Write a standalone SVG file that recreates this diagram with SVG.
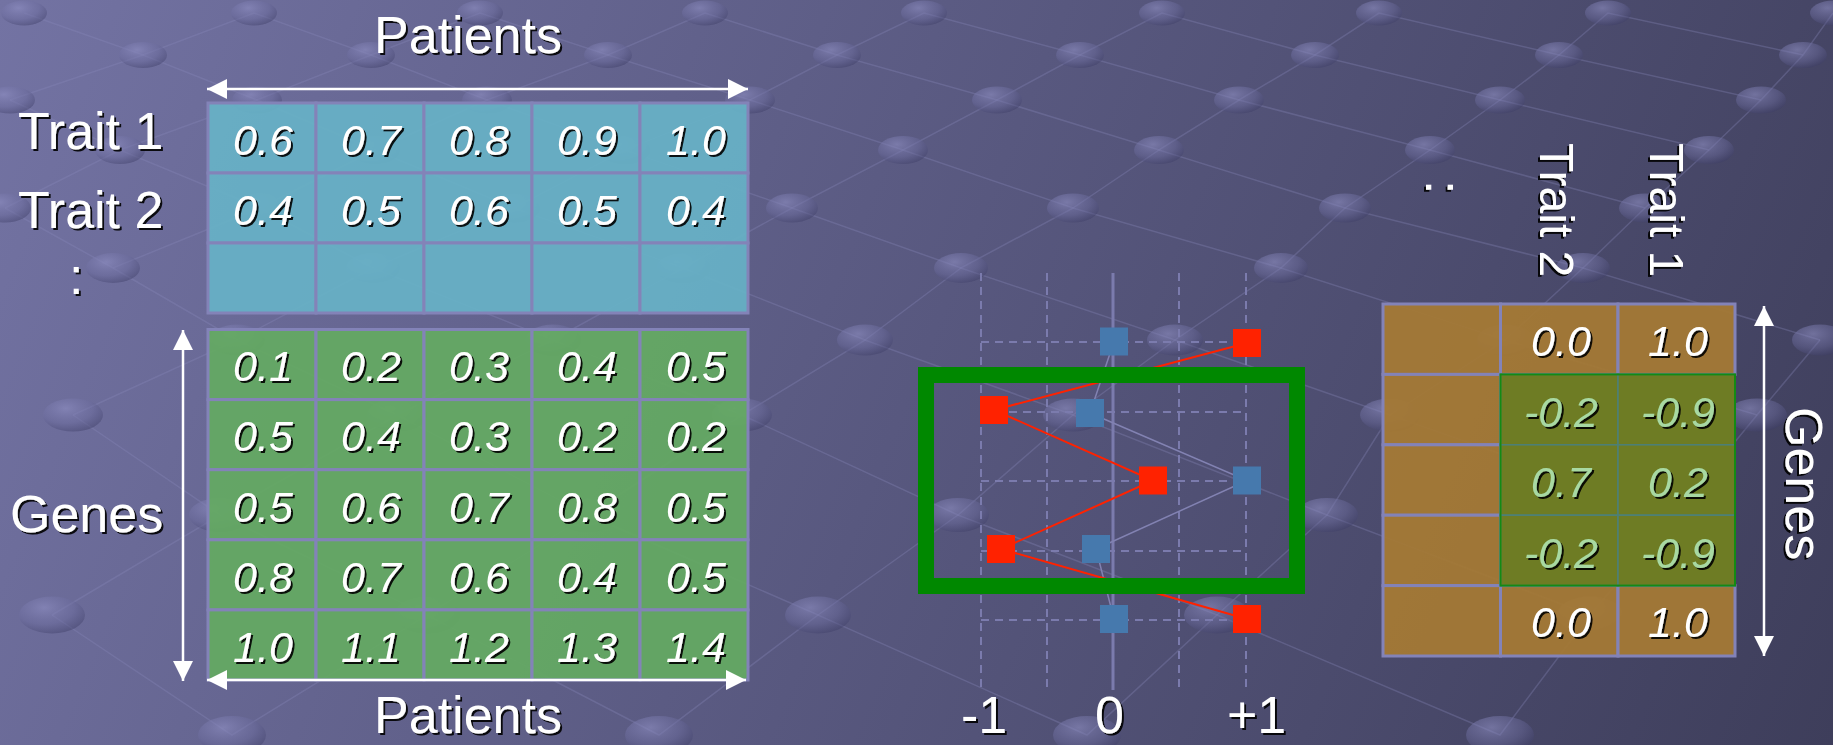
<svg xmlns="http://www.w3.org/2000/svg" width="1833" height="745" viewBox="0 0 1833 745">
<defs>
<linearGradient id="bg" gradientUnits="userSpaceOnUse" x1="0" y1="0" x2="1833" y2="745">
<stop offset="0" stop-color="#7373a3"/><stop offset="0.5" stop-color="#58587f"/><stop offset="1" stop-color="#3e3e5b"/>
</linearGradient>
<radialGradient id="ballg" cx="0.38" cy="0.3" r="0.75">
<stop offset="0" stop-color="#9090c4" stop-opacity="0.6"/><stop offset="0.6" stop-color="#6c6c9e" stop-opacity="0.45"/><stop offset="1" stop-color="#3a3a62" stop-opacity="0.45"/>
</radialGradient>
<filter id="sh" x="-10%" y="-10%" width="130%" height="140%">
<feDropShadow dx="2" dy="2" stdDeviation="0.4" flood-color="#000" flood-opacity="0.9"/>
</filter>
<marker id="ah" markerUnits="userSpaceOnUse" markerWidth="21" markerHeight="21" refX="20" refY="10" orient="auto-start-reverse">
<path d="M0,0 L20,10 L0,20 Z" fill="#fff"/>
</marker>
<style>
.lat{fill:none;stroke:#8a8abc;stroke-opacity:0.32;stroke-width:1.5}
.ball{fill:url(#ballg)}
.lbl{font-family:"Liberation Sans",Arial,sans-serif;font-size:52px;fill:#fff;filter:url(#sh)}
.num{font-family:"Liberation Sans",Arial,sans-serif;font-style:italic;font-size:43px;fill:#fff;text-anchor:middle;filter:url(#sh)}
.ng{fill:#a8d9a2}
.cb{fill:#67b2c6;fill-opacity:0.93;stroke:#8383b8;stroke-width:3}
.cg{fill:#64aa62;fill-opacity:0.93;stroke:#8383b8;stroke-width:3}
.cr{fill:#a47935;fill-opacity:0.95;stroke:#8383b8;stroke-width:3}
.co{fill:#6e7c24;stroke:#4d8078;stroke-width:1.5}
.arr{stroke:#fff;stroke-width:2.5;fill:none;marker-start:url(#ah);marker-end:url(#ah)}
.dash{stroke:#7b7bad;stroke-width:2;stroke-dasharray:8 6;fill:none}
.bsq{fill:#4679ad}
.rsq{fill:#ff2200}
</style>
</defs>

<g id="background">
<rect width="1833" height="745" fill="url(#bg)"/>
<g class="lat">
<polyline points="24,13 143,55 254,13 371,55 480,13 608,55 705,13 837,55 924,13 1080,55 1162,13 1315,55 1379,13 1559,55 1608,13 1803,55 1833,13"/>
<polyline points="10,100 143,55 257,100 371,55 487,100 608,55 750,100 837,55 997,100 1080,55 1239,100 1315,55 1500,100 1559,55 1761,100 1803,55"/>
<polyline points="10,100 120,150 257,100 375,150 487,100 625,150 750,100 903,150 997,100 1159,150 1239,100 1430,150 1500,100 1709,150 1761,100"/>
<polyline points="5,208 120,150 260,208 375,150 514,208 625,150 792,208 903,150 1073,208 1159,150 1345,208 1430,150 1645,208 1709,150"/>
<polyline points="5,208 113,268 260,208 373,268 514,208 683,268 792,208 961,268 1073,208 1281,268 1345,208 1583,268 1645,208"/>
<polyline points="113,268 237,340 373,268 553,340 683,268 865,340 961,268 1175,340 1281,268 1505,340 1583,268 1820,340"/>
<polyline points="73,415 237,340 397,415 553,340 742,415 865,340 1073,415 1175,340 1390,415 1505,340 1757,415 1820,340"/>
<polyline points="73,415 220,515 397,415 588,515 742,415 958,515 1073,415 1327,515 1390,415 1675,515 1757,415"/>
<polyline points="52,615 220,515 427,615 588,515 818,615 958,515 1217,615 1327,515 1590,615 1675,515"/>
<polyline points="52,615 232,735 427,615 659,735 818,615 1087,735 1217,615 1500,735 1590,615"/>
</g>
<g class="ball">
<ellipse cx="24" cy="13" rx="23" ry="12.5"/><ellipse cx="254" cy="13" rx="23" ry="12.5"/><ellipse cx="480" cy="13" rx="23" ry="12.5"/><ellipse cx="705" cy="13" rx="23" ry="12.5"/><ellipse cx="924" cy="13" rx="23" ry="12.5"/><ellipse cx="1162" cy="13" rx="23" ry="12.5"/><ellipse cx="1379" cy="13" rx="23" ry="12.5"/><ellipse cx="1608" cy="13" rx="23" ry="12.5"/><ellipse cx="1833" cy="13" rx="23" ry="12.5"/>
<ellipse cx="143" cy="55" rx="24" ry="13"/><ellipse cx="371" cy="55" rx="24" ry="13"/><ellipse cx="608" cy="55" rx="24" ry="13"/><ellipse cx="837" cy="55" rx="24" ry="13"/><ellipse cx="1080" cy="55" rx="24" ry="13"/><ellipse cx="1315" cy="55" rx="24" ry="13"/><ellipse cx="1559" cy="55" rx="24" ry="13"/><ellipse cx="1803" cy="55" rx="24" ry="13"/>
<ellipse cx="10" cy="100" rx="25" ry="13.5"/><ellipse cx="257" cy="100" rx="25" ry="13.5"/><ellipse cx="487" cy="100" rx="25" ry="13.5"/><ellipse cx="750" cy="100" rx="25" ry="13.5"/><ellipse cx="997" cy="100" rx="25" ry="13.5"/><ellipse cx="1239" cy="100" rx="25" ry="13.5"/><ellipse cx="1500" cy="100" rx="25" ry="13.5"/><ellipse cx="1761" cy="100" rx="25" ry="13.5"/>
<ellipse cx="120" cy="150" rx="25" ry="14"/><ellipse cx="375" cy="150" rx="25" ry="14"/><ellipse cx="625" cy="150" rx="25" ry="14"/><ellipse cx="903" cy="150" rx="25" ry="14"/><ellipse cx="1159" cy="150" rx="25" ry="14"/><ellipse cx="1430" cy="150" rx="25" ry="14"/><ellipse cx="1709" cy="150" rx="25" ry="14"/>
<ellipse cx="5" cy="208" rx="26" ry="14.5"/><ellipse cx="260" cy="208" rx="26" ry="14.5"/><ellipse cx="514" cy="208" rx="26" ry="14.5"/><ellipse cx="792" cy="208" rx="26" ry="14.5"/><ellipse cx="1073" cy="208" rx="26" ry="14.5"/><ellipse cx="1345" cy="208" rx="26" ry="14.5"/><ellipse cx="1645" cy="208" rx="26" ry="14.5"/>
<ellipse cx="113" cy="268" rx="27" ry="15"/><ellipse cx="373" cy="268" rx="27" ry="15"/><ellipse cx="683" cy="268" rx="27" ry="15"/><ellipse cx="961" cy="268" rx="27" ry="15"/><ellipse cx="1281" cy="268" rx="27" ry="15"/><ellipse cx="1583" cy="268" rx="27" ry="15"/>
<ellipse cx="237" cy="340" rx="28" ry="15.5"/><ellipse cx="553" cy="340" rx="28" ry="15.5"/><ellipse cx="865" cy="340" rx="28" ry="15.5"/><ellipse cx="1175" cy="340" rx="28" ry="15.5"/><ellipse cx="1505" cy="340" rx="28" ry="15.5"/><ellipse cx="1820" cy="340" rx="28" ry="15.5"/>
<ellipse cx="73" cy="415" rx="30" ry="16.5"/><ellipse cx="397" cy="415" rx="30" ry="16.5"/><ellipse cx="742" cy="415" rx="30" ry="16.5"/><ellipse cx="1073" cy="415" rx="30" ry="16.5"/><ellipse cx="1390" cy="415" rx="30" ry="16.5"/><ellipse cx="1757" cy="415" rx="30" ry="16.5"/>
<ellipse cx="220" cy="515" rx="31" ry="17"/><ellipse cx="588" cy="515" rx="31" ry="17"/><ellipse cx="958" cy="515" rx="31" ry="17"/><ellipse cx="1327" cy="515" rx="31" ry="17"/><ellipse cx="1675" cy="515" rx="31" ry="17"/>
<ellipse cx="52" cy="615" rx="33" ry="18.5"/><ellipse cx="427" cy="615" rx="33" ry="18.5"/><ellipse cx="818" cy="615" rx="33" ry="18.5"/><ellipse cx="1217" cy="615" rx="33" ry="18.5"/><ellipse cx="1590" cy="615" rx="33" ry="18.5"/>
<ellipse cx="232" cy="735" rx="34" ry="19"/><ellipse cx="659" cy="735" rx="34" ry="19"/><ellipse cx="1087" cy="735" rx="34" ry="19"/><ellipse cx="1500" cy="735" rx="34" ry="19"/>
</g>
</g>

<g id="trait-table">
<rect class="cb" x="208" y="103" width="108" height="70"/><rect class="cb" x="316" y="103" width="108" height="70"/><rect class="cb" x="424" y="103" width="108" height="70"/><rect class="cb" x="532" y="103" width="108" height="70"/><rect class="cb" x="640" y="103" width="108" height="70"/>
<rect class="cb" x="208" y="173" width="108" height="70"/><rect class="cb" x="316" y="173" width="108" height="70"/><rect class="cb" x="424" y="173" width="108" height="70"/><rect class="cb" x="532" y="173" width="108" height="70"/><rect class="cb" x="640" y="173" width="108" height="70"/>
<rect class="cb" x="208" y="243" width="108" height="70"/><rect class="cb" x="316" y="243" width="108" height="70"/><rect class="cb" x="424" y="243" width="108" height="70"/><rect class="cb" x="532" y="243" width="108" height="70"/><rect class="cb" x="640" y="243" width="108" height="70"/>
<text class="num" x="263" y="155">0.6</text><text class="num" x="371" y="155">0.7</text><text class="num" x="479" y="155">0.8</text><text class="num" x="587" y="155">0.9</text><text class="num" x="696" y="155">1.0</text>
<text class="num" x="263" y="225">0.4</text><text class="num" x="371" y="225">0.5</text><text class="num" x="479" y="225">0.6</text><text class="num" x="587" y="225">0.5</text><text class="num" x="696" y="225">0.4</text>
</g>

<g id="gene-table">
<rect class="cg" x="208" y="329.5" width="108" height="70.1"/><rect class="cg" x="316" y="329.5" width="108" height="70.1"/><rect class="cg" x="424" y="329.5" width="108" height="70.1"/><rect class="cg" x="532" y="329.5" width="108" height="70.1"/><rect class="cg" x="640" y="329.5" width="108" height="70.1"/>
<rect class="cg" x="208" y="399.6" width="108" height="70.1"/><rect class="cg" x="316" y="399.6" width="108" height="70.1"/><rect class="cg" x="424" y="399.6" width="108" height="70.1"/><rect class="cg" x="532" y="399.6" width="108" height="70.1"/><rect class="cg" x="640" y="399.6" width="108" height="70.1"/>
<rect class="cg" x="208" y="469.7" width="108" height="70.1"/><rect class="cg" x="316" y="469.7" width="108" height="70.1"/><rect class="cg" x="424" y="469.7" width="108" height="70.1"/><rect class="cg" x="532" y="469.7" width="108" height="70.1"/><rect class="cg" x="640" y="469.7" width="108" height="70.1"/>
<rect class="cg" x="208" y="539.8" width="108" height="70.1"/><rect class="cg" x="316" y="539.8" width="108" height="70.1"/><rect class="cg" x="424" y="539.8" width="108" height="70.1"/><rect class="cg" x="532" y="539.8" width="108" height="70.1"/><rect class="cg" x="640" y="539.8" width="108" height="70.1"/>
<rect class="cg" x="208" y="609.9" width="108" height="70.1"/><rect class="cg" x="316" y="609.9" width="108" height="70.1"/><rect class="cg" x="424" y="609.9" width="108" height="70.1"/><rect class="cg" x="532" y="609.9" width="108" height="70.1"/><rect class="cg" x="640" y="609.9" width="108" height="70.1"/>
<text class="num" x="263" y="381">0.1</text><text class="num" x="371" y="381">0.2</text><text class="num" x="479" y="381">0.3</text><text class="num" x="587" y="381">0.4</text><text class="num" x="696" y="381">0.5</text>
<text class="num" x="263" y="451">0.5</text><text class="num" x="371" y="451">0.4</text><text class="num" x="479" y="451">0.3</text><text class="num" x="587" y="451">0.2</text><text class="num" x="696" y="451">0.2</text>
<text class="num" x="263" y="522">0.5</text><text class="num" x="371" y="522">0.6</text><text class="num" x="479" y="522">0.7</text><text class="num" x="587" y="522">0.8</text><text class="num" x="696" y="522">0.5</text>
<text class="num" x="263" y="592">0.8</text><text class="num" x="371" y="592">0.7</text><text class="num" x="479" y="592">0.6</text><text class="num" x="587" y="592">0.4</text><text class="num" x="696" y="592">0.5</text>
<text class="num" x="263" y="662">1.0</text><text class="num" x="371" y="662">1.1</text><text class="num" x="479" y="662">1.2</text><text class="num" x="587" y="662">1.3</text><text class="num" x="696" y="662">1.4</text>
</g>

<g id="left-labels">
<text class="lbl" x="468" y="53" text-anchor="middle">Patients</text>
<text class="lbl" x="18" y="149">Trait 1</text>
<text class="lbl" x="18" y="228">Trait 2</text>
<text class="lbl" x="69" y="294">:</text>
<text class="lbl" x="10" y="532">Genes</text>
<text class="lbl" x="468" y="733" text-anchor="middle">Patients</text>
</g>

<g id="plot">
<g class="dash">
<line x1="981" y1="273" x2="981" y2="690"/><line x1="1047" y1="273" x2="1047" y2="690"/><line x1="1179" y1="273" x2="1179" y2="690"/><line x1="1246" y1="273" x2="1246" y2="690"/>
<line x1="981" y1="342" x2="1246" y2="342"/><line x1="981" y1="412" x2="1246" y2="412"/><line x1="981" y1="481" x2="1246" y2="481"/><line x1="981" y1="551" x2="1246" y2="551"/><line x1="981" y1="620" x2="1246" y2="620"/>
</g>
<line x1="1113" y1="273" x2="1113" y2="690" stroke="#7b7bad" stroke-width="3"/>
<text class="lbl" x="961" y="733">-1</text>
<text class="lbl" x="1095" y="733">0</text>
<text class="lbl" x="1227" y="733">+1</text>
</g>

<g id="connectors">
<line class="arr" x1="207" y1="89" x2="748" y2="89"/>
<line class="arr" x1="183" y1="330" x2="183" y2="681"/>
<line class="arr" x1="207" y1="680" x2="746" y2="680"/>
<line class="arr" x1="1764" y1="306" x2="1764" y2="656"/>
<polyline points="1114,341.5 1090,413 1247,480.5 1096,549 1114,619" fill="none" stroke="#8282b2" stroke-width="1.5"/>
<polyline points="1247,343 994,410 1153,480.5 1001,549 1247,619" fill="none" stroke="#ff2200" stroke-width="2"/>
</g>

<g id="selection">
<rect x="926" y="375" width="371" height="211" fill="none" stroke="#008800" stroke-width="16"/>
</g>

<g id="points">
<rect class="bsq" x="1100" y="327.5" width="28" height="28"/>
<rect class="bsq" x="1076" y="399" width="28" height="28"/>
<rect class="bsq" x="1233" y="466.5" width="28" height="28"/>
<rect class="bsq" x="1082" y="535" width="28" height="28"/>
<rect class="bsq" x="1100" y="605" width="28" height="28"/>
<rect class="rsq" x="1233" y="329" width="28" height="28"/>
<rect class="rsq" x="980" y="396" width="28" height="28"/>
<rect class="rsq" x="1139" y="466.5" width="28" height="28"/>
<rect class="rsq" x="987" y="535" width="28" height="28"/>
<rect class="rsq" x="1233" y="605" width="28" height="28"/>
</g>

<g id="correlation-table">
<rect class="cr" x="1383" y="304" width="117.5" height="70.4"/><rect class="cr" x="1500.5" y="304" width="117.5" height="70.4"/><rect class="cr" x="1618" y="304" width="117" height="70.4"/>
<rect class="cr" x="1383" y="374.4" width="117.5" height="70.4"/><rect class="cr" x="1383" y="444.8" width="117.5" height="70.4"/><rect class="cr" x="1383" y="515.2" width="117.5" height="70.4"/>
<rect class="cr" x="1383" y="585.6" width="117.5" height="70.4"/><rect class="cr" x="1500.5" y="585.6" width="117.5" height="70.4"/><rect class="cr" x="1618" y="585.6" width="117" height="70.4"/>
<rect class="co" x="1500.5" y="374.4" width="117.5" height="70.4"/><rect class="co" x="1618" y="374.4" width="117" height="70.4"/>
<rect class="co" x="1500.5" y="444.8" width="117.5" height="70.4"/><rect class="co" x="1618" y="444.8" width="117" height="70.4"/>
<rect class="co" x="1500.5" y="515.2" width="117.5" height="70.4"/><rect class="co" x="1618" y="515.2" width="117" height="70.4"/>
<rect x="1500.5" y="374.4" width="234.5" height="211.2" fill="none" stroke="#148a14" stroke-width="2"/>
<text class="num" x="1561" y="356">0.0</text><text class="num" x="1678" y="356">1.0</text>
<text class="num ng" x="1561" y="427">-0.2</text><text class="num ng" x="1678" y="427">-0.9</text>
<text class="num ng" x="1561" y="497">0.7</text><text class="num ng" x="1678" y="497">0.2</text>
<text class="num ng" x="1561" y="568">-0.2</text><text class="num ng" x="1678" y="568">-0.9</text>
<text class="num" x="1561" y="637">0.0</text><text class="num" x="1678" y="637">1.0</text>
</g>

<g id="right-labels">
<text class="lbl" transform="translate(1426,180) rotate(90)">:</text>
<text class="lbl" style="font-size:48px" transform="translate(1540,143) rotate(90)">Trait 2</text>
<text class="lbl" style="font-size:48px" transform="translate(1650,143) rotate(90)">Trait 1</text>
<text class="lbl" transform="translate(1786,407) rotate(90)">Genes</text>
</g>
</svg>
